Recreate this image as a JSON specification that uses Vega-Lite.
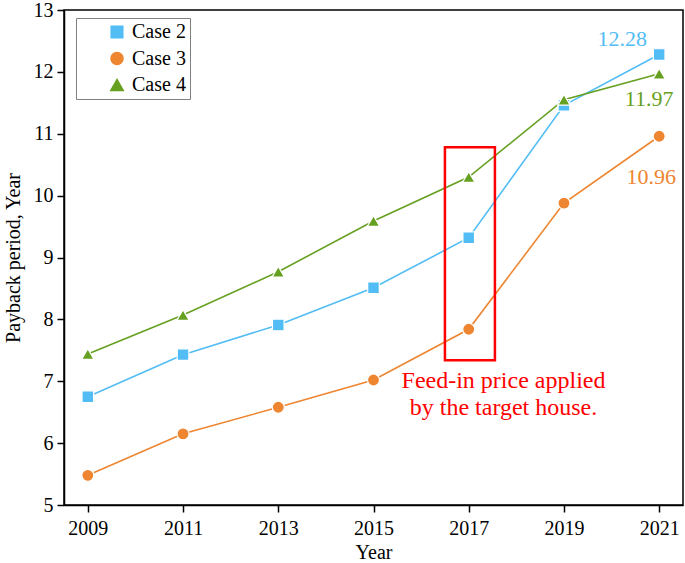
{
  "$schema": "https://vega.github.io/schema/vega-lite/v6.json",
  "autosize": "none",
  "width": 619,
  "height": 495,
  "padding": {"left": 64, "top": 10, "right": 2, "bottom": 58},
  "background": "white",
  "config": {
    "font": "Liberation Serif",
    "view": {"stroke": "black", "strokeWidth": 1.5},
    "axis": {
      "labelFont": "Liberation Serif",
      "titleFont": "Liberation Serif",
      "labelFontSize": 20,
      "titleFontSize": 20,
      "titleFontWeight": "normal",
      "labelColor": "black",
      "titleColor": "black",
      "domainColor": "black",
      "domainWidth": 1.5,
      "tickColor": "black",
      "tickWidth": 1.5,
      "tickSize": 7,
      "grid": false
    },
    "legend": {
      "title": null,
      "orient": "none",
      "legendX": 12,
      "legendY": 8,
      "padding": 4,
      "strokeColor": "#808080",
      "fillColor": "white",
      "labelFont": "Liberation Serif",
      "labelFontSize": 20,
      "labelColor": "black",
      "rowPadding": 6.5,
      "symbolSize": 100,
      "symbolOffset": 27,
      "labelOffset": 5
    }
  },
  "datasets": {
    "series": [
      {"year": 2009, "case": "Case 2", "value": 6.75},
      {"year": 2011, "case": "Case 2", "value": 7.43},
      {"year": 2013, "case": "Case 2", "value": 7.91},
      {"year": 2015, "case": "Case 2", "value": 8.51},
      {"year": 2017, "case": "Case 2", "value": 9.32},
      {"year": 2019, "case": "Case 2", "value": 11.46},
      {"year": 2021, "case": "Case 2", "value": 12.28},
      {"year": 2009, "case": "Case 3", "value": 5.48},
      {"year": 2011, "case": "Case 3", "value": 6.15},
      {"year": 2013, "case": "Case 3", "value": 6.58},
      {"year": 2015, "case": "Case 3", "value": 7.02},
      {"year": 2017, "case": "Case 3", "value": 7.84},
      {"year": 2019, "case": "Case 3", "value": 9.88},
      {"year": 2021, "case": "Case 3", "value": 10.96},
      {"year": 2009, "case": "Case 4", "value": 7.44},
      {"year": 2011, "case": "Case 4", "value": 8.07},
      {"year": 2013, "case": "Case 4", "value": 8.77},
      {"year": 2015, "case": "Case 4", "value": 9.59},
      {"year": 2017, "case": "Case 4", "value": 10.3},
      {"year": 2019, "case": "Case 4", "value": 11.55},
      {"year": 2021, "case": "Case 4", "value": 11.97}
    ],
    "box": [
      {"x1": 2016.5, "x2": 2017.55, "y1": 7.34, "y2": 10.78}
    ]
  },
  "layer": [
    {
      "data": {"name": "series"},
      "mark": {"type": "line", "strokeWidth": 1.6},
      "encoding": {
        "x": {
          "field": "year", "type": "quantitative",
          "scale": {"domain": [2008.5, 2021.5], "nice": false, "zero": false},
          "axis": {"values": [2009, 2011, 2013, 2015, 2017, 2019, 2021], "format": "d", "title": "Year", "labelPadding": 6, "titlePadding": 4}
        },
        "y": {
          "field": "value", "type": "quantitative",
          "scale": {"domain": [5, 13], "nice": false, "zero": false},
          "axis": {"values": [5, 6, 7, 8, 9, 10, 11, 12, 13], "format": "d", "title": "Payback period, Year", "labelPadding": 4, "titlePadding": 10}
        },
        "color": {
          "field": "case", "type": "nominal",
          "scale": {"domain": ["Case 2", "Case 3", "Case 4"], "range": ["#52BDF5", "#EE8530", "#66A020"]},
          "legend": {"title": null}
        }
      }
    },
    {
      "data": {"name": "series"},
      "mark": {"type": "point", "filled": true, "opacity": 1, "stroke": "white", "strokeWidth": 1.2},
      "encoding": {
        "x": {"field": "year", "type": "quantitative"},
        "y": {"field": "value", "type": "quantitative"},
        "color": {
          "field": "case", "type": "nominal",
          "scale": {"domain": ["Case 2", "Case 3", "Case 4"], "range": ["#52BDF5", "#EE8530", "#66A020"]},
          "legend": {"title": null}
        },
        "shape": {
          "field": "case", "type": "nominal",
          "scale": {"domain": ["Case 2", "Case 3", "Case 4"], "range": ["square", "circle", "triangle-up"]},
          "legend": null
        },
        "size": {
          "field": "case", "type": "nominal",
          "scale": {"domain": ["Case 2", "Case 3", "Case 4"], "range": [135, 155, 200]},
          "legend": null
        }
      }
    },
    {
      "data": {"name": "series"},
      "transform": [{"filter": "datum.year === 2021 && datum['case'] === 'Case 2'"}],
      "mark": {"type": "text", "font": "Liberation Serif", "fontSize": 22, "dx": -37, "dy": -16, "color": "#52BDF5"},
      "encoding": {
        "x": {"field": "year", "type": "quantitative"},
        "y": {"field": "value", "type": "quantitative"},
        "text": {"field": "value", "type": "quantitative", "format": ".2f"}
      }
    },
    {
      "data": {"name": "series"},
      "transform": [{"filter": "datum.year === 2021 && datum['case'] === 'Case 4'"}],
      "mark": {"type": "text", "font": "Liberation Serif", "fontSize": 22, "dx": -10, "dy": 25, "color": "#66A020"},
      "encoding": {
        "x": {"field": "year", "type": "quantitative"},
        "y": {"field": "value", "type": "quantitative"},
        "text": {"field": "value", "type": "quantitative", "format": ".2f"}
      }
    },
    {
      "data": {"name": "series"},
      "transform": [{"filter": "datum.year === 2021 && datum['case'] === 'Case 3'"}],
      "mark": {"type": "text", "font": "Liberation Serif", "fontSize": 22, "dx": -8, "dy": 41, "color": "#EE8530"},
      "encoding": {
        "x": {"field": "year", "type": "quantitative"},
        "y": {"field": "value", "type": "quantitative"},
        "text": {"field": "value", "type": "quantitative", "format": ".2f"}
      }
    },
    {
      "data": {"name": "box"},
      "mark": {"type": "rect", "fill": null, "fillOpacity": 0, "stroke": "#FF0000", "strokeWidth": 2.5},
      "encoding": {
        "x": {"field": "x1", "type": "quantitative"},
        "x2": {"field": "x2"},
        "y": {"field": "y1", "type": "quantitative"},
        "y2": {"field": "y2"}
      }
    },
    {
      "data": {"values": [{}]},
      "mark": {"type": "text", "font": "Liberation Serif", "fontSize": 24, "color": "#FF0000", "align": "center", "baseline": "top", "lineHeight": 27},
      "encoding": {
        "x": {"datum": 2017.73, "type": "quantitative"},
        "y": {"datum": 7.2, "type": "quantitative"},
        "text": {"value": ["Feed-in price applied", "by the target house."]}
      }
    }
  ]
}
